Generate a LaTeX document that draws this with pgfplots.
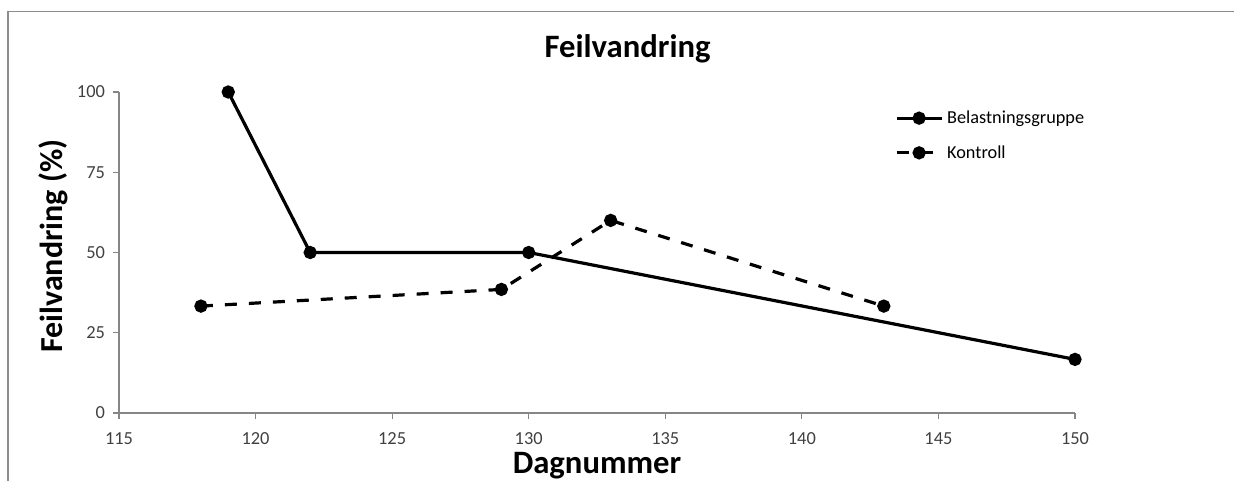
\documentclass[border=0pt]{standalone}
\usepackage{pgfplots}
\pgfplotsset{compat=1.18}
\usepackage{fontspec}
\setmainfont{Carlito}
\definecolor{axgray}{HTML}{868686}
\definecolor{framegray}{HTML}{8C8C8C}
\definecolor{ticktext}{HTML}{404040}
\pgfplotsset{
    solidlegend/.style={legend image code/.code={
        \draw[##1, mark repeat=2, mark phase=2]
            plot coordinates {(0pt,0pt) (16.9pt,0pt) (33.75pt,0pt)};}},
    dashlegend/.style={legend image code/.code={
        \draw[##1, mark repeat=2, mark phase=2]
            plot coordinates {(0pt,0pt) (16.9pt,0pt) (28pt,0pt)};}},
}

\begin{document}
\begin{tikzpicture}
% page = 1234 x 481 px at 0.75pt per px, axis box at (119,413)-(1075,92) px
\useasboundingbox (-89.25pt,-51pt) rectangle (836.25pt,309.75pt);
\draw[framegray, line width=1.1pt] (-83.25pt,-60pt) -- (-83.25pt,301pt) -- (845pt,301pt);
\begin{axis}[
    at={(0pt,0pt)}, anchor=south west,
    scale only axis,
    width=717pt, height=240.75pt,
    xmin=115, xmax=150, ymin=0, ymax=100,
    xtick={115,120,...,150},
    ytick={0,25,50,75,100},
    axis x line*=bottom, axis y line*=left,
    axis line style={axgray, line width=0.8pt},
    tick align=outside,
    major tick length=4.5pt,
    tick style={axgray, line width=0.8pt},
    /pgf/number format/assume math mode=true,
    tick label style={font=\fontsize{13.8}{16}\selectfont, text=ticktext},
    xticklabel style={yshift=-6.5pt},
    yticklabel style={xshift=-2.5pt},
    clip=false,
    title={Feilvandring},
    title style={font=\fontsize{24.5}{28}\selectfont\bfseries,
        at={(axis description cs:0.532,1.081)}, anchor=base},
    xlabel={Dagnummer},
    xlabel style={font=\fontsize{24.5}{28}\selectfont\bfseries,
        at={(axis description cs:0.5,-0.187)}, anchor=base},
    ylabel={Feilvandring (\%)},
    ylabel style={font=\fontsize{24}{28}\selectfont\bfseries,
        at={(axis description cs:-0.0596,0.52)}, anchor=base},
    legend cell align=left,
    legend style={draw=none, fill=none, inner sep=0pt, outer sep=0pt,
        at={(axis description cs:0.8117,0.8645)}, anchor=west,
        font=\fontsize{13.7}{16}\selectfont, row sep=9pt,
        nodes={inner sep=3pt}},
]
\addplot[black, solid, line width=2.4pt, mark=*, mark size=3.75pt,
    mark options={solid}, solidlegend]
    coordinates {(119,100) (122,50) (130,50) (150,16.7)};
\addlegendentry{Belastningsgruppe}
\addplot[black, line width=2.4pt, dash pattern=on 9pt off 9pt,
    mark=*, mark size=3.75pt, mark options={solid}, dashlegend]
    coordinates {(118,33.3) (129,38.5) (133,60) (143,33.3)};
\addlegendentry{Kontroll}
\end{axis}
\end{tikzpicture}
\end{document}
